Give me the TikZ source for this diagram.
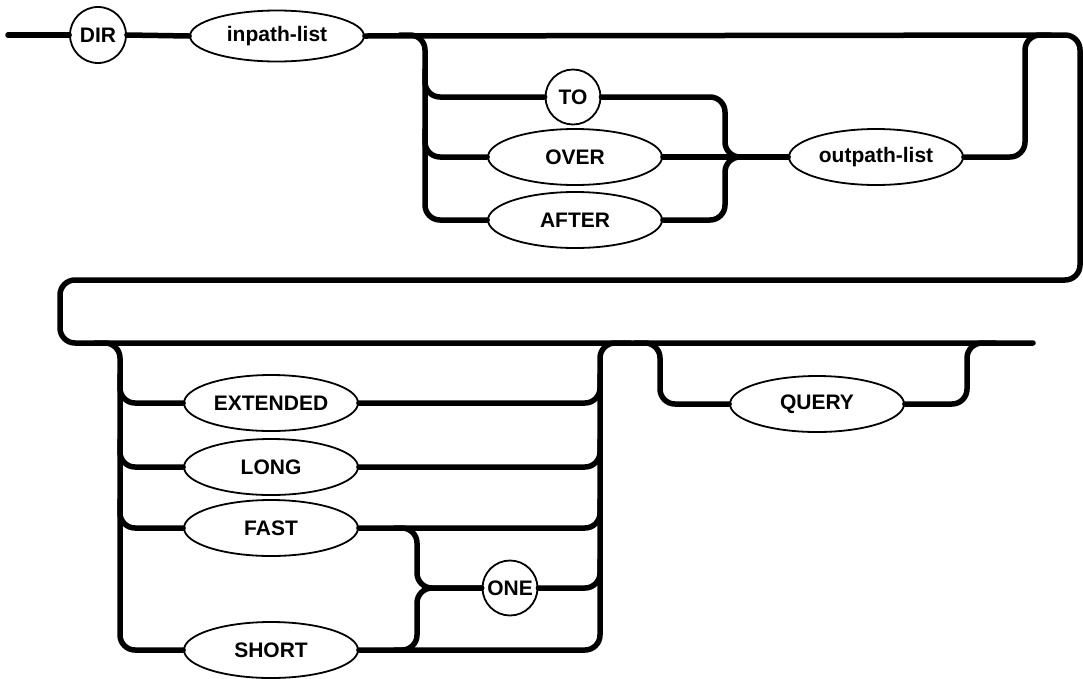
\documentclass[tikz,border=0pt]{standalone}
\usepackage{fontspec}
\setmainfont{Liberation Sans}
\usetikzlibrary{shapes.geometric}
\begin{document}
\begin{tikzpicture}[x=1pt,y=-1pt,
  track/.style={line width=5.5pt, line cap=round, line join=round, rounded corners=15pt},
  kwfont/.style={font=\fontsize{21}{25}\selectfont\bfseries},
  kw/.style={kwfont, draw, line width=1.8pt, ellipse, minimum width=174pt, minimum height=56pt, inner sep=0pt, fill=white},
  kwc/.style={kwfont, draw, line width=1.8pt, circle, minimum size=55pt, inner sep=0pt, fill=white}]
\useasboundingbox (0,0) rectangle (1083,678);

% ---- first line: DIR inpath-list [TO|OVER|AFTER outpath-list]
\coordinate (start) at (8,35);
\node[kwc, minimum size=56pt] (dir) at (98,35) {DIR};
\node[kw, minimum height=51pt] (inpath) at (277,36) {inpath-list};
\node[kwc] (to) at (573,97) {TO};
\node[kw] (over) at (575,157) {OVER};
\node[kw] (after) at (575,220) {AFTER};
\node[kw] (outpath) at (876,157) {outpath-list};

% ---- second line: [EXTENDED|LONG|FAST [ONE]|SHORT [ONE]] [QUERY]
\node[kw] (ext) at (271,403) {EXTENDED};
\node[kw] (long) at (271,467) {LONG};
\node[kw] (fast) at (271,528) {FAST};
\node[kw] (short) at (271,650) {SHORT};
\node[kwc] (one) at (510,588) {ONE};
\node[kw] (query) at (817,404) {QUERY};

% main track with the wrap-around between the two lines
\coordinate (endpt) at (1033,343);
\draw[track] (start) -- (dir.west);
\draw[track] (dir.east) -- (inpath.west);
\draw[track] (inpath.east) -- (1080,35) -- (1080,280) -- (60,280) -- (60,343) -- (endpt);

% optional group after inpath-list
\draw[track] (400,35) -- (425,35) -- (425,220) -- (after.west);
\draw[track] (425,70) -- (425,97) -- (to.west);
\draw[track] (425,130) -- (425,157) -- (over.west);
\draw[track] (to.east) -- (725,97) -- (725,157) -- (760,157);
\draw[track] (after.east) -- (725,220) -- (725,157) -- (760,157);
\draw[track] (over.east) -- (outpath.west);
\draw[track] (outpath.east) -- (1025,157) -- (1025,35) -- (1050,35);

% option group on the second line
\draw[track] (95,343) -- (120,343) -- (120,650) -- (short.west);
\draw[track] (120,375) -- (120,403) -- (ext.west);
\draw[track] (120,440) -- (120,467) -- (long.west);
\draw[track] (120,500) -- (120,528) -- (fast.west);
\draw[track] (short.east) -- (600,650) -- (600,343) -- (630,343);
\draw[track] (ext.east) -- (600,403) -- (600,375);
\draw[track] (long.east) -- (600,467) -- (600,440);
\draw[track] (fast.east) -- (600,528) -- (600,500);
\draw[track] (395,528) -- (417,528) -- (417,588) -- (one.west);
\draw[track] (395,650) -- (417,650) -- (417,588) -- (one.west);
\draw[track] (one.east) -- (600,588) -- (600,560);

% optional QUERY
\draw[track] (635,343) -- (660,343) -- (660,404) -- (query.west);
\draw[track] (query.east) -- (967,404) -- (967,343) -- (995,343);
\end{tikzpicture}
\end{document}
